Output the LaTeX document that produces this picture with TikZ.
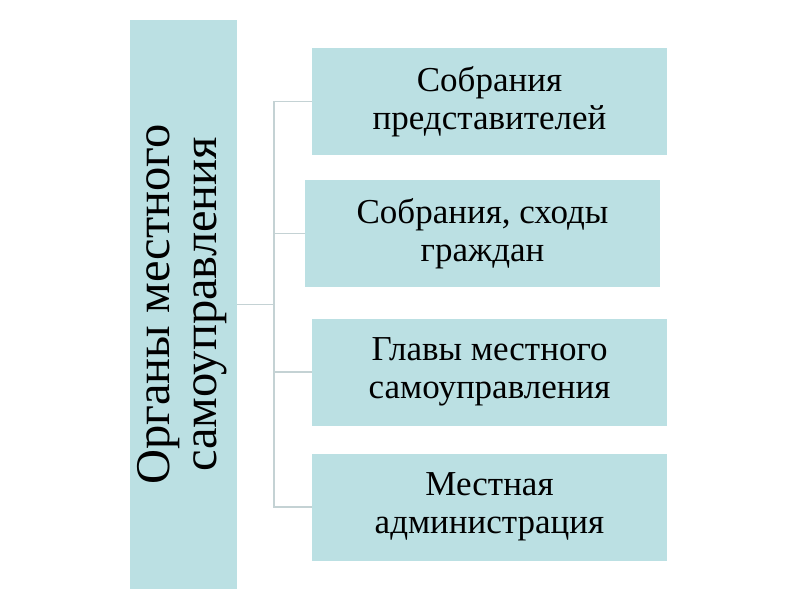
\documentclass[tikz,border=0pt]{standalone}
\usepackage{fontspec}
\setmainfont{Liberation Serif}
\definecolor{boxfill}{RGB}{187,224,227}
\definecolor{linkcol}{RGB}{196,210,212}
\tikzset{
  sidebox/.style={fill=boxfill, draw=none, minimum width=355pt, minimum height=107pt,
    inner sep=0pt, align=center, font=\fontsize{35}{38}\selectfont},
  mainbox/.style={fill=boxfill, draw=none, minimum width=107pt, minimum height=569pt, inner sep=0pt},
  link/.style={draw=linkcol, line width=1.5pt}
}
\begin{document}
\begin{tikzpicture}[x=1pt,y=-1pt]
\useasboundingbox (0,0) rectangle (800,600);
\node[mainbox] (L) at (183.5,304.5) {\rotatebox{90}{\fontsize{48.5}{48}\selectfont\begin{tabular}{@{}c@{}}Органы местного\\[-1pt]самоуправления\end{tabular}}};
\node[sidebox] (b1) at (489.5,101.5) {Собрания\\представителей};
\node[sidebox] (b2) at (482.5,233.5) {Собрания, сходы\\граждан};
\node[sidebox] (b3) at (489.5,372) {Главы местного\\самоуправления};
\node[sidebox] (b4) at (489.5,507) {Местная\\администрация};
\coordinate (j) at (274,304.5);
\draw[link] (L.east) -- (j);
\draw[link] (j) |- (b1.west);
\draw[link] (j) |- (b2.west);
\draw[link] (j) |- (b3.west);
\draw[link] (j) |- (b4.west);
\end{tikzpicture}
\end{document}
